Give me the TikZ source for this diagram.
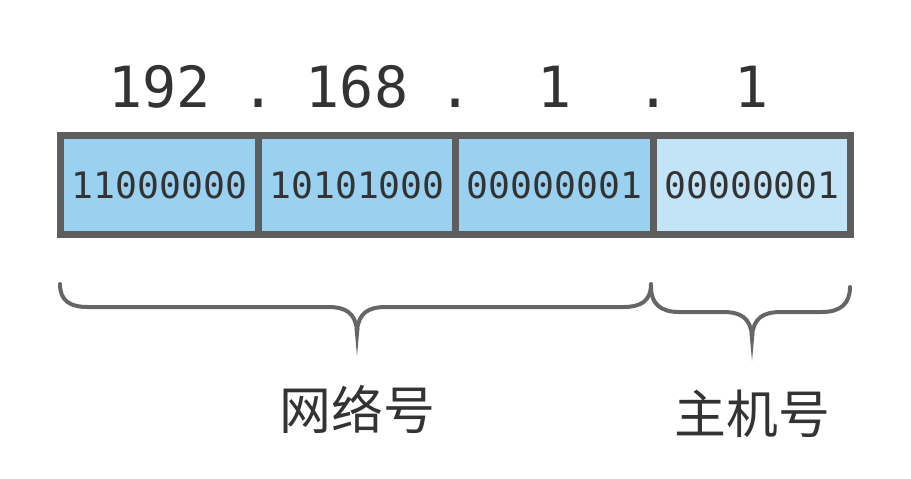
\documentclass[tikz,border=0pt]{standalone}
\usepackage{fontspec}
\setmonofont{DejaVu Sans Mono}
\newfontfamily\cjk{Noto Sans CJK SC}
\usetikzlibrary{positioning}
\definecolor{cellblue}{HTML}{9AD1F1}
\definecolor{hostblue}{HTML}{C2E4F6}
\definecolor{edgegray}{HTML}{5E5E5E}
\definecolor{textgray}{HTML}{333333}
\definecolor{bracegray}{HTML}{666666}
\begin{document}
\begin{tikzpicture}[x=0.2mm, y=-0.2mm,
  cell/.style={draw=edgegray, fill=cellblue, line width=1.4mm, outer sep=0pt, inner sep=0pt,
    minimum width=39.5mm, minimum height=19.8mm, text=textgray,
    font=\ttfamily\fontsize{20.7}{24}\selectfont},
  num/.style={anchor=base, inner sep=0pt, text=textgray, font=\ttfamily\fontsize{32.3}{36}\selectfont},
  part/.style={inner sep=0pt, text=textgray, font=\cjk\fontsize{29.5}{32}\selectfont},
  brace/.style={draw=bracegray, line width=0.8mm, line cap=round}]
    \useasboundingbox (0,0) rectangle (911,478);
    \node[cell] (c1) at (159.5,185) {11000000};
    \node[cell, right=0pt of c1] (c2) {10101000};
    \node[cell, right=0pt of c2] (c3) {00000001};
    \node[cell, fill=hostblue, right=0pt of c3] (c4) {00000001};
    \node[num] (n1) at ([yshift=5.7mm]c1.north) {192};
    \node[num] (n2) at ([yshift=5.7mm]c2.north) {168};
    \node[num] (n3) at ([yshift=5.7mm]c3.north) {1};
    \node[num] (n4) at ([yshift=5.7mm]c4.north) {1};
    \node[num] (d1) at ([yshift=5.7mm]c1.north east) {.};
    \node[num] (d2) at ([yshift=5.7mm]c2.north east) {.};
    \node[num] (d3) at ([yshift=5.7mm]c3.north east) {.};
    \draw[brace] (60,284) .. controls (60,301) and (70,307) .. (88,307) -- (328,307) .. controls (346,307) and (355,313) .. (357,330);
    \draw[brace] (651,284) .. controls (651,301) and (641,307) .. (623,307) -- (386,307) .. controls (368,307) and (359,313) .. (357,330);
    \fill[bracegray] (354.5,328) -- (359.5,328) -- (357,356) -- cycle;
    \draw[brace] (651,287) .. controls (651,304) and (661,312) .. (679,312) -- (723,312) .. controls (741,312) and (750,318) .. (752,335);
    \draw[brace] (850,287) .. controls (850,304) and (840,312) .. (822,312) -- (781,312) .. controls (763,312) and (754,318) .. (752,335);
    \fill[bracegray] (749.5,333) -- (754.5,333) -- (752,361) -- cycle;
    \node[part] (net) at (357.5,409) {网络号};
    \node[part] (host) at (752.5,413.5) {主机号};
\end{tikzpicture}
\end{document}
